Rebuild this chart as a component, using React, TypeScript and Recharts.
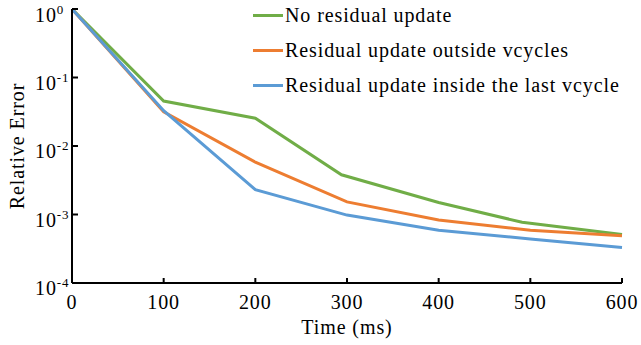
import React from 'react';
import { LineChart, Line, XAxis, YAxis } from 'recharts';

const FONT = "'Liberation Serif', 'Times New Roman', Times, serif";
const SPACING = '0.9px';

const xTicks = [0, 100, 200, 300, 400, 500, 600];
const yTicks = [1e-4, 1e-3, 1e-2, 1e-1, 1];
const yExponents = ['-4', '-3', '-2', '-1', '0'];

const noUpdateTime = [0, 100, 200, 294, 400, 491, 600];
const noUpdateError = [1, 0.0454, 0.0254, 0.0038, 0.0015, 0.00077, 0.00051];

const outsideTime = [0, 100, 200, 300, 400, 500, 600];
const outsideError = [1, 0.0316, 0.0058, 0.00153, 0.00083, 0.00059, 0.00049];

const insideTime = [0, 100, 200, 300, 400, 500, 600];
const insideError = [1, 0.0327, 0.0023, 0.00098, 0.00059, 0.00044, 0.00033];

const seriesNames = [
  'No residual update',
  'Residual update outside vcycles',
  'Residual update inside the last vcycle',
];
const seriesColors = ['#70AD47', '#ED7D31', '#5B9BD5'];

const toRows = (t: number[], e: number[]) => t.map((time, i) => ({ time, err: e[i] }));

const noUpdateData = toRows(noUpdateTime, noUpdateError);
const outsideData = toRows(outsideTime, outsideError);
const insideData = toRows(insideTime, insideError);

function YTick(props: any) {
  const { x, y, payload } = props;
  const idx = yTicks.findIndex((v) => Math.abs(Math.log10(v) - Math.log10(payload.value)) < 1e-6);
  const base = Math.max(y + 12, 22);
  return (
    <g>
      <line x1={x} x2={x + 6} y1={y} y2={y} stroke="#000" strokeWidth={2} />
      <text x={x - 37} y={base} style={{ fontFamily: FONT, letterSpacing: SPACING }} fontSize={20} fill="#000" textAnchor="start">
        <tspan>10</tspan>
        <tspan dy={-8} fontSize={13}>{yExponents[idx]}</tspan>
      </text>
    </g>
  );
}

function XTick(props: any) {
  const { x, y, payload } = props;
  return (
    <g>
      <line x1={x} x2={x} y1={y} y2={y - 5} stroke="#000" strokeWidth={2} />
      <text x={x} y={y + 26} style={{ fontFamily: FONT, letterSpacing: SPACING }} fontSize={20} fill="#000" textAnchor="middle">
        {payload.value}
      </text>
    </g>
  );
}

function LegendBox() {
  return (
    <div style={{ position: 'absolute', left: 253, top: -2, fontFamily: FONT, fontSize: 20, letterSpacing: SPACING, color: '#000', lineHeight: '35px' }}>
      {seriesNames.map((name, i) => (
        <div key={name} style={{ display: 'flex', alignItems: 'center', height: 35 }}>
          <div style={{ width: 30, height: 3, background: seriesColors[i], marginRight: 2 }} />
          <span style={{ whiteSpace: 'nowrap' }}>{name}</span>
        </div>
      ))}
    </div>
  );
}

export default function App() {
  return (
    <div style={{ position: 'absolute', left: 0, top: 0, width: 641, height: 345, background: '#fff', fontFamily: FONT }}>
      <LineChart width={641} height={345} margin={{ top: 9, right: 19, left: 0, bottom: 0 }}>
        <XAxis
          dataKey="time"
          type="number"
          domain={[0, 600]}
          ticks={xTicks}
          allowDuplicatedCategory={false}
          height={62}
          tickSize={0}
          tickMargin={0}
          tickLine={false}
          axisLine={{ stroke: '#000', strokeWidth: 2 }}
          tick={<XTick />}
          label={{ value: 'Time (ms)', position: 'insideBottom', offset: 11, style: { fontFamily: FONT, fontSize: 20, letterSpacing: SPACING, fill: '#000' } }}
        />
        <YAxis
          dataKey="err"
          scale="log"
          domain={[1e-4, 1]}
          ticks={yTicks}
          allowDataOverflow
          width={72}
          tickSize={0}
          tickMargin={0}
          tickLine={false}
          axisLine={{ stroke: '#000', strokeWidth: 2 }}
          tick={<YTick />}
          label={{ value: 'Relative Error', angle: -90, position: 'insideLeft', offset: 17, style: { fontFamily: FONT, fontSize: 20, letterSpacing: SPACING, fill: '#000', textAnchor: 'middle' } }}
        />
        <Line data={noUpdateData} dataKey="err" name={seriesNames[0]} stroke={seriesColors[0]} strokeWidth={3} dot={false} isAnimationActive={false} />
        <Line data={outsideData} dataKey="err" name={seriesNames[1]} stroke={seriesColors[1]} strokeWidth={3} dot={false} isAnimationActive={false} />
        <Line data={insideData} dataKey="err" name={seriesNames[2]} stroke={seriesColors[2]} strokeWidth={3} dot={false} isAnimationActive={false} />
      </LineChart>
      <LegendBox />
    </div>
  );
}
